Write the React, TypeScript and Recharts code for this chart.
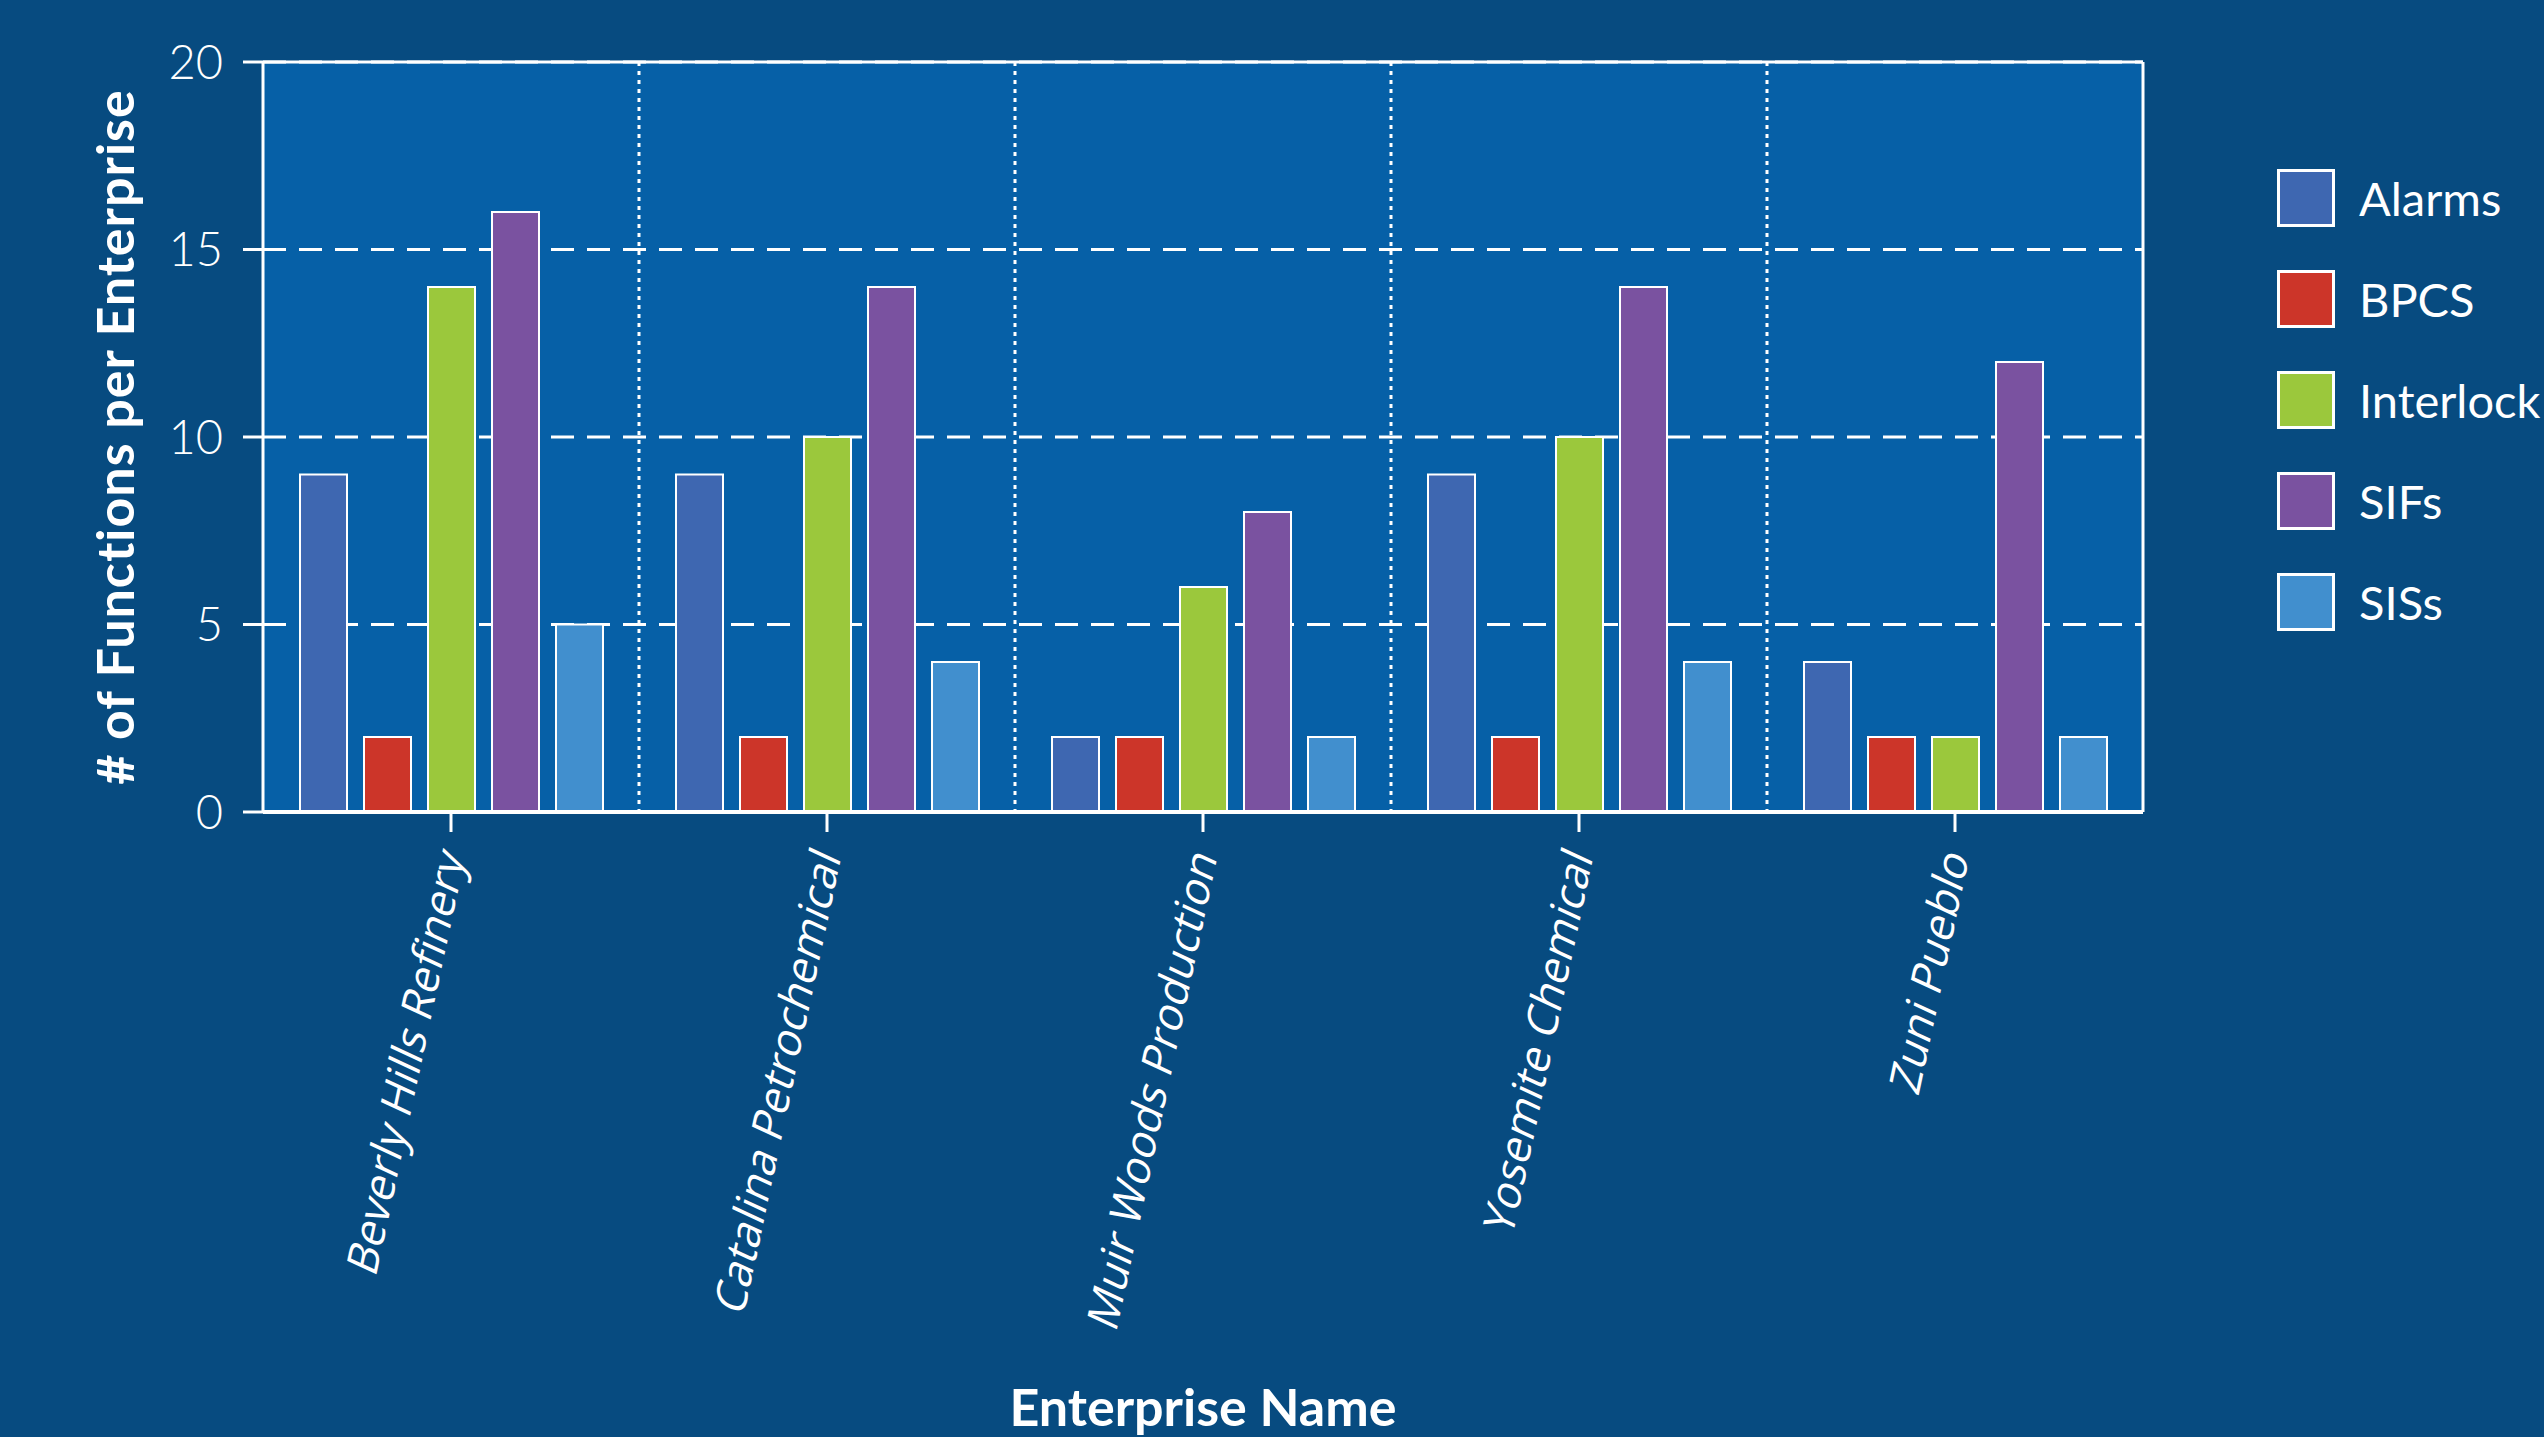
import React from "react";
import { BarChart, Bar, XAxis, YAxis, CartesianGrid, Legend } from "recharts";

const ENTERPRISES = [
  "Beverly Hills Refinery",
  "Catalina Petrochemical",
  "Muir Woods Production",
  "Yosemite Chemical",
  "Zuni Pueblo",
];
const ALARMS = [9, 9, 2, 9, 4];
const BPCS = [2, 2, 2, 2, 2];
const INTERLOCK = [14, 10, 6, 10, 2];
const SIFS = [16, 14, 8, 14, 12];
const SISS = [5, 4, 2, 4, 2];
const Y_TICKS = [0, 5, 10, 15, 20];

const SERIES = [
  { key: "Alarms", values: ALARMS, color: "#3e67b1" },
  { key: "BPCS", values: BPCS, color: "#cc3529" },
  { key: "Interlock", values: INTERLOCK, color: "#9bc83c" },
  { key: "SIFs", values: SIFS, color: "#7a52a0" },
  { key: "SISs", values: SISS, color: "#418fce" },
];

const BG = "#074b80";
const PLOT_BG = "#0660a7";
const WHITE = "#ffffff";

const data = ENTERPRISES.map((name, i) => {
  const row: Record<string, string | number> = { name };
  SERIES.forEach((s) => (row[s.key] = s.values[i]));
  return row;
});

if (typeof document !== "undefined") {
  document.body.style.margin = "0";
  document.body.style.background = BG;
}

// upright Open Sans, slanted and turned like the original labels
function XTick({ x, y, payload }: any) {
  return (
    <text
      x={0}
      y={0}
      transform={`translate(${x + 14},${y + 24}) rotate(-78) skewX(-13)`}
      textAnchor="end"
      fill={WHITE}
      fontFamily="'Open Sans', sans-serif"
      fontSize={44}
    >
      {payload.value}
    </text>
  );
}

function LegendBox() {
  return (
    <div style={{ fontFamily: "Lato, sans-serif", color: WHITE }}>
      {SERIES.map((s) => (
        <div key={s.key} style={{ display: "flex", alignItems: "center", height: 101 }}>
          <div
            style={{
              width: 58,
              height: 58,
              boxSizing: "border-box",
              border: `3px solid ${WHITE}`,
              background: s.color,
            }}
          />
          <span style={{ marginLeft: 24, fontSize: 47, whiteSpace: "nowrap" }}>{s.key}</span>
        </div>
      ))}
    </div>
  );
}

export default function App() {
  return (
    <div style={{ width: 2544, height: 1437, background: BG, overflow: "hidden" }}>
      <BarChart
        width={2544}
        height={1437}
        data={data}
        margin={{ top: 60, right: 399, bottom: 0, left: 0 }}
        barSize={47}
        barGap={17}
      >
        <CartesianGrid
          vertical={false}
          stroke={WHITE}
          strokeWidth={3}
          strokeDasharray="23 13"
          fill={PLOT_BG}
          fillOpacity={1}
        />
        <CartesianGrid
          horizontal={false}
          stroke={WHITE}
          strokeWidth={3}
          strokeDasharray="4 5"
          verticalCoordinatesGenerator={({ offset }: any) =>
            ENTERPRISES.slice(1).map(
              (_, i) => offset.left + ((i + 1) * offset.width) / ENTERPRISES.length
            )
          }
        />
        <XAxis
          dataKey="name"
          interval={0}
          height={625}
          tick={<XTick />}
          tickSize={20}
          tickLine={{ stroke: WHITE, strokeWidth: 3 }}
          axisLine={{ stroke: WHITE, strokeWidth: 4 }}
          label={{
            content: ({ viewBox }: any) => (
              <text
                x={viewBox.x + viewBox.width / 2}
                y={viewBox.y + 614}
                textAnchor="middle"
                fill={WHITE}
                fontFamily="Lato, sans-serif"
                fontWeight={700}
                fontSize={52}
              >
                Enterprise Name
              </text>
            ),
          }}
        />
        <XAxis
          xAxisId="top"
          orientation="top"
          dataKey="name"
          height={2}
          tick={false}
          tickLine={false}
          axisLine={{ stroke: WHITE, strokeWidth: 3 }}
        />
        <YAxis
          domain={[0, 20]}
          ticks={Y_TICKS}
          width={263}
          tickSize={20}
          tickMargin={20}
          tick={{ fill: WHITE, fontSize: 47, fontFamily: "Lato, sans-serif", fontWeight: 300 }}
          tickLine={{ stroke: WHITE, strokeWidth: 3 }}
          axisLine={{ stroke: WHITE, strokeWidth: 3 }}
          label={{
            content: ({ viewBox }: any) => (
              <text
                transform={`translate(${viewBox.x + 114},${viewBox.y + viewBox.height / 2}) rotate(-90)`}
                textAnchor="middle"
                dominantBaseline="central"
                fill={WHITE}
                fontFamily="Lato, sans-serif"
                fontWeight={700}
                fontSize={52}
                letterSpacing={1}
              >
                # of Functions per Enterprise
              </text>
            ),
          }}
        />
        <YAxis
          yAxisId="right"
          orientation="right"
          domain={[0, 20]}
          width={2}
          tick={false}
          tickLine={false}
          axisLine={{ stroke: WHITE, strokeWidth: 3 }}
        />
        <Legend
          layout="vertical"
          align="center"
          verticalAlign="middle"
          wrapperStyle={{ left: 2277, top: 147, width: "auto", height: "auto" }}
          content={() => <LegendBox />}
        />
        {SERIES.map((s) => (
          <Bar
            key={s.key}
            dataKey={s.key}
            fill={s.color}
            stroke={WHITE}
            strokeWidth={2}
            isAnimationActive={false}
          />
        ))}
      </BarChart>
    </div>
  );
}
